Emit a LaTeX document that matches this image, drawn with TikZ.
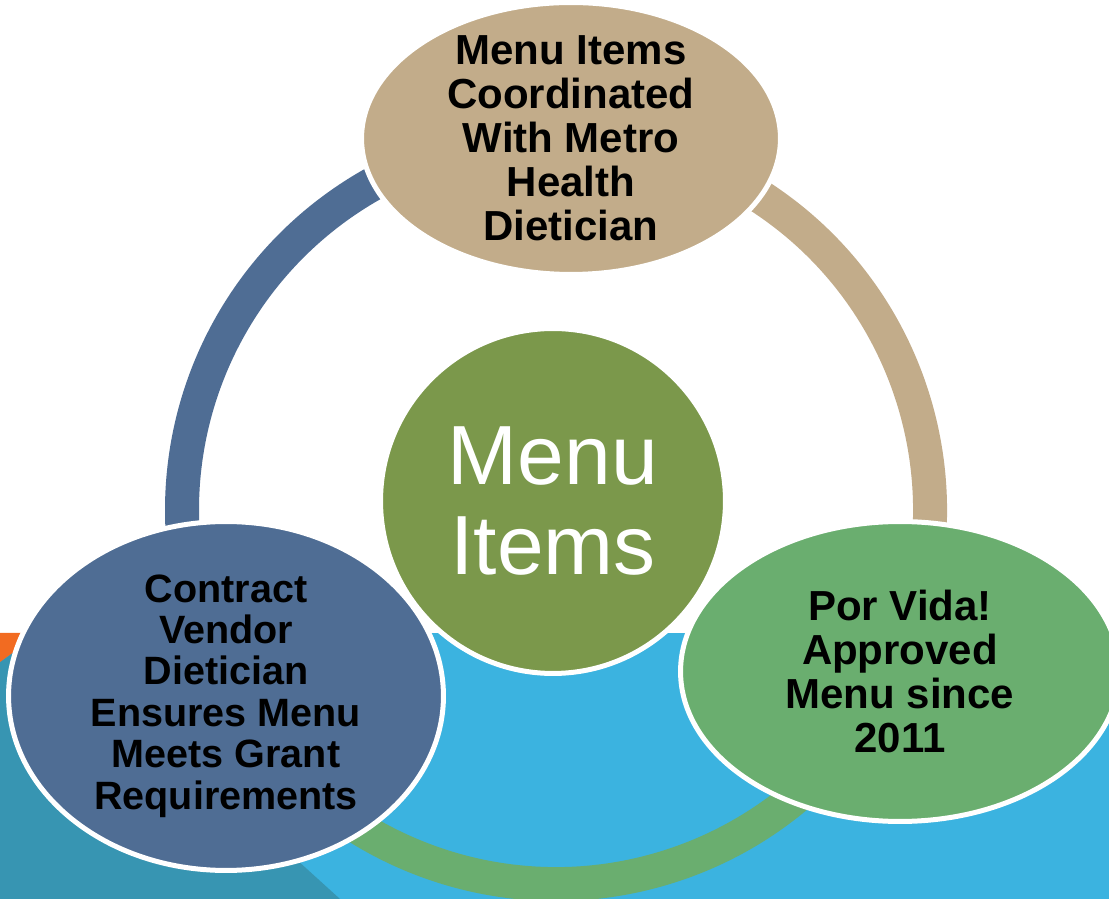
\documentclass[tikz,border=0pt]{standalone}
\usepackage{fontspec}
\setmainfont{Liberation Sans}
\usetikzlibrary{shapes.geometric}

\definecolor{skyband}{HTML}{3BB3E0}
\definecolor{tealband}{HTML}{3795B2}
\definecolor{orangeband}{HTML}{F26B21}
\definecolor{vendorblue}{HTML}{4F6D94}
\definecolor{metrotan}{HTML}{C2AC8A}
\definecolor{hubgreen}{HTML}{7B984B}
\definecolor{vidagreen}{HTML}{6AAE6F}

\tikzset{
  bubble/.style={ellipse, draw=white, line width=0.1cm, inner sep=0pt},
  bubbletext/.style={font=\bfseries\fontsize{23.9}{25}\selectfont, align=center, text=black},
  vendortext/.style={font=\bfseries\fontsize{22.5}{23.6}\selectfont, align=center, text=black},
  band/.style={line width=0.68cm},
}

\begin{document}
\begin{tikzpicture}[x=0.02cm, y=0.02cm]
			%%%%% START %%%%%
			
			\useasboundingbox (0,0) rectangle (1109,899);
			\fill[white] (0,0) rectangle (1109,899);
			
			\fill[skyband] (0,0) rectangle (1109,266);
			\fill[tealband] (0,237) -- (40,266) -- (47,266) -- (340,0) -- (0,0) -- cycle;
			\fill[orangeband] (0,266) -- (40,266) -- (0,237) -- cycle;
			
			\coordinate (ring) at (556,389);
			\draw[band, vendorblue] ([shift={(90:374)}]ring) arc[start angle=90, end angle=200, radius=374];
			\draw[band, metrotan] ([shift={(-30:374)}]ring) arc[start angle=-30, end angle=90, radius=374];
			\draw[band, vidagreen] ([shift={(200:374)}]ring) arc[start angle=200, end angle=330, radius=374];
			
			\node[circle, draw=white, line width=0.1cm, fill=hubgreen, minimum size=6.9cm, inner sep=0pt,
				text=white, align=center, font=\fontsize{47.8}{51.2}\selectfont] (hub) at (553,398) {Menu\\Items};
			
			\node[bubble, fill=metrotan, minimum width=8.38cm, minimum height=5.44cm,
				label={[bubbletext]center:Menu Items\\Coordinated\\With Metro\\Health\\Dietician}] (metro) at (571,760.5) {};
			\node[bubble, fill=vendorblue, minimum width=8.7cm, minimum height=6.98cm,
				label={[vendortext]center:Contract\\Vendor\\Dietician\\Ensures Menu\\Meets Grant\\Requirements}] (vendor) at (226,203) {};
			\node[bubble, fill=vidagreen, minimum width=8.78cm, minimum height=6.0cm,
				label={[bubbletext]center:Por Vida!\\Approved\\Menu since\\2011}] (vida) at (900,227.5) {};
			
			%%%%% END %%%%%
\end{tikzpicture}
\end{document}
